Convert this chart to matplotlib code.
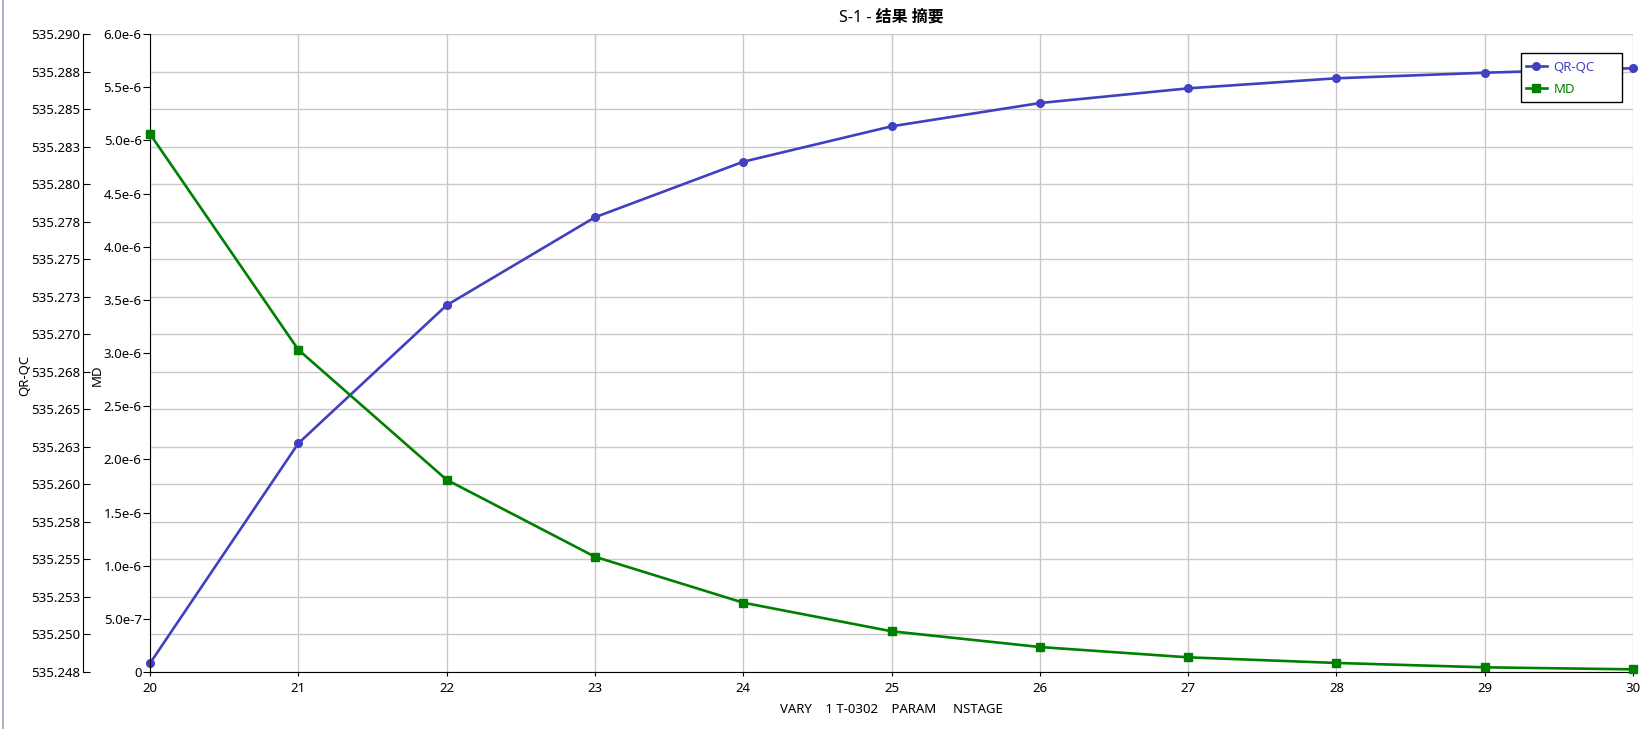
#!/usr/bin/env python3
"""S-1 结果摘要: QR-QC 和 MD 随 NSTAGE 的变化 (双左轴)"""

import matplotlib
matplotlib.use('Agg')
import matplotlib.pyplot as plt
from matplotlib.lines import Line2D
from matplotlib.patches import Rectangle

plt.rcParams['font.family'] = ['Noto Sans', 'Noto Sans CJK SC', 'DejaVu Sans']

# 数据
nstage = [20, 21, 22, 23, 24, 25, 26, 27, 28, 29, 30]
qr_qc = [535.24808, 535.26273, 535.27193, 535.27779, 535.28149, 535.28385,
         535.28540, 535.28638, 535.28705, 535.28742, 535.28772]
md = [5.060e-6, 3.031e-6, 1.808e-6, 1.084e-6, 6.52e-7, 3.83e-7,
      2.35e-7, 1.38e-7, 8.5e-8, 4.4e-8, 2.5e-8]

qr_ticks = [535.2475, 535.2500, 535.2525, 535.2550, 535.2575, 535.2600,
            535.2625, 535.2650, 535.2675, 535.2700, 535.2725, 535.2750,
            535.2775, 535.2800, 535.2825, 535.2850, 535.2875, 535.2900]
qr_labels = ['535.248', '535.250', '535.253', '535.255', '535.258', '535.260',
             '535.263', '535.265', '535.268', '535.270', '535.273', '535.275',
             '535.278', '535.280', '535.283', '535.285', '535.288', '535.290']
md_ticks = [0, 5e-7, 1e-6, 1.5e-6, 2e-6, 2.5e-6, 3e-6, 3.5e-6, 4e-6,
            4.5e-6, 5e-6, 5.5e-6, 6e-6]
md_labels = ['0', '5.0e-7', '1.0e-6', '1.5e-6', '2.0e-6', '2.5e-6', '3.0e-6',
             '3.5e-6', '4.0e-6', '4.5e-6', '5.0e-6', '5.5e-6', '6.0e-6']

BLUE = '#4040c0'
GREEN = '#008000'
GRID = '#c8c8c8'
FS = 9.5

W, H = 1650, 729
fig = plt.figure(figsize=(W / 100, H / 100), dpi=100)
ax = fig.add_axes([150 / W, 1 - 672 / H, 1483 / W, 638 / H])

# QR-QC 轴 (外侧左轴, 带网格)
ax.plot(nstage, qr_qc, color=BLUE, lw=1.9, marker='o', ms=5.5, label='QR-QC',
        clip_on=False, zorder=3)
ax.set_xlim(20, 30)
ax.set_ylim(qr_ticks[0], qr_ticks[-1])
ax.set_yticks(qr_ticks)
ax.set_yticklabels(qr_labels)
ax.set_xticks(nstage)
ax.grid(True, color=GRID, lw=1)
ax.set_axisbelow(True)
ax.spines['left'].set_position(('outward', 67 * 0.72))
ax.spines['top'].set_visible(False)
ax.spines['right'].set_visible(False)
ax.tick_params(axis='y', direction='in', length=5, pad=2, labelsize=FS)
ax.tick_params(axis='x', direction='out', length=3, pad=4, labelsize=FS)
ax.set_ylabel('QR-QC', fontsize=FS)
ax.yaxis.set_label_coords(-119 / 1483, 0.465)
ax.set_xlabel('VARY    1 T-0302    PARAM     NSTAGE', fontsize=FS, labelpad=6)

# MD 轴 (内侧左轴)
ax2 = ax.twinx()
ax2.plot(nstage, md, color=GREEN, lw=1.9, marker='s', ms=6, label='MD',
         clip_on=False, zorder=3)
ax2.set_ylim(md_ticks[0], md_ticks[-1])
ax2.set_yticks(md_ticks)
ax2.set_yticklabels(md_labels)
ax2.yaxis.tick_left()
ax2.yaxis.set_label_position('left')
ax2.spines['left'].set_visible(True)
for s in ['top', 'right', 'bottom']:
    ax2.spines[s].set_visible(False)
ax2.tick_params(axis='y', direction='out', length=5, pad=1, labelsize=FS)
ax2.set_ylabel('MD', fontsize=FS)
ax2.yaxis.set_label_coords(-46 / 1483, 0.465)

ax2.set_title('S-1 - 结果 摘要', fontsize=11.5, fontweight='bold', pad=9)

# 图例: 固定大小的黑框 + 无框图例
box = Rectangle((1521 / W, 1 - 102 / H), 101 / W, 49 / H,
                transform=fig.transFigure, facecolor='white',
                edgecolor='black', lw=1, zorder=4, clip_on=False)
ax2.add_patch(box)
h1, l1 = ax.get_legend_handles_labels()
h2, l2 = ax2.get_legend_handles_labels()
leg = ax2.legend(h1 + h2, l1 + l2, loc='upper left',
                 bbox_to_anchor=(1523 / W, 1 - 58 / H),
                 bbox_transform=fig.transFigure, fontsize=FS,
                 frameon=False, handlelength=1.6, handletextpad=0.5,
                 borderpad=0.2, labelspacing=0.7, borderaxespad=0)
leg.set_zorder(5)
for txt, c in zip(leg.get_texts(), [BLUE, GREEN]):
    txt.set_color(c)

# 左侧窗口边框
fig.add_artist(Line2D([3 / W, 3 / W], [0, 1], color='#9aa4b8', lw=1.2))

plt.savefig('out.png', dpi=100)
